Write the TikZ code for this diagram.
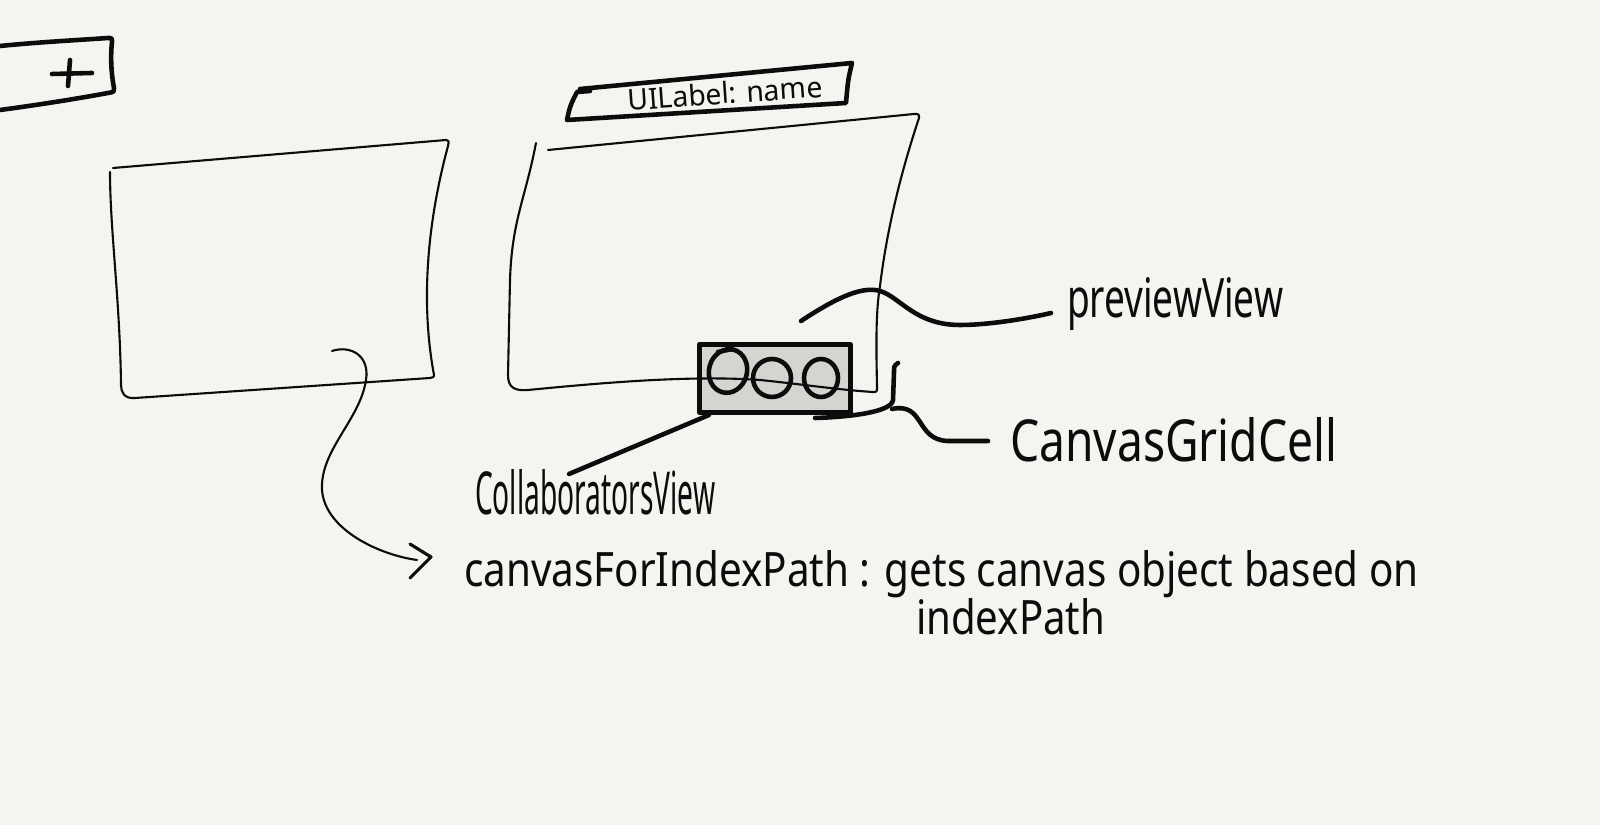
\documentclass[tikz,border=0pt]{standalone}
\usepackage{fontspec}
\setmainfont{Noto Sans}
\usepackage{graphicx}
\definecolor{paper}{RGB}{245,244,240}
\definecolor{cellgray}{RGB}{212,212,209}
\definecolor{ink}{RGB}{12,12,12}
\newcommand\hwtext[2]{\resizebox{#1}{!}{#2}}
\newcommand\hwbox[3]{\resizebox{#1}{#2}{#3}}
\begin{document}
\begin{tikzpicture}[x=0.01cm,y=-0.01cm,line cap=round,line join=round,
  thinstroke/.style={draw=ink,line width=0.6pt},
  thickstroke/.style={draw=ink,line width=1.3pt},
  hand/.style={inner sep=0pt,outer sep=0pt,text=ink}]
\fill[paper] (0,0) rectangle (1600,825);
\useasboundingbox (0,0) rectangle (1600,825);

% top-left partial box with plus
\draw[thickstroke] (0,46) .. controls (40,42) and (80,40) .. (108,38)
  .. controls (112,38) .. (112,42) .. controls (110,60) and (112,78) .. (114,88)
  .. controls (114,92) .. (108,93) .. controls (70,100) and (30,106) .. (0,110);
\draw[thickstroke] (52,74) -- (92,73);
\draw[thickstroke] (70,60) -- (68,86);

% left canvas box
\draw[thinstroke] (113,168) -- (446,140) .. controls (449,141) .. (448,146)
  .. controls (428,220) and (420,300) .. (434,375) .. controls (434,377) .. (430,378)
  -- (135,398) .. controls (124,399) and (121,392) .. (121,385)
  .. controls (120,300) and (110,230) .. (110,172);

% collaborators cell (grey) with three circles
\node[draw=ink,line width=1.3pt,fill=cellgray,minimum width=1.51cm,minimum height=0.68cm,
  inner sep=0pt,anchor=north west] (cell) at (697,342) {};
\draw[thickstroke,rotate around={-15:(728,371)}] (728,371) ellipse [x radius=19,y radius=22];
\draw[thickstroke] (772,378) ellipse [x radius=19,y radius=19];
\draw[thickstroke] (821,378) ellipse [x radius=17,y radius=19];
\draw[thickstroke] (718,352) -- (732,349);

% middle canvas box
\draw[thinstroke] (536,143) .. controls (525,200) and (512,220) .. (510,280)
  -- (508,375) .. controls (508,388) and (515,391) .. (528,390)
  .. controls (600,383) and (690,375) .. (760,380)
  .. controls (800,384) and (840,390) .. (873,392)
  .. controls (877,392) .. (877,386)
  .. controls (876,340) and (876,310) .. (880,286)
  .. controls (888,220) and (905,160) .. (919,118)
  .. controls (919,114) .. (914,114) -- (548,150);

% UILabel box
\draw[thickstroke] (580,89) -- (852,63) .. controls (848,80) .. (846,103) -- (567,120)
  .. controls (570,106) .. (577,92) -- (590,91);
\node[hand,rotate=4] (uilabel) at (725,93) {\hwbox{1.95cm}{0.22cm}{UILabel: name}};

% previewView
\coordinate (pvstart) at (801,321);
\node[hand,anchor=base west] (preview) at (1067,318) {\hwbox{2.16cm}{0.40cm}{previewView}};
\draw[thickstroke] (pvstart) .. controls (830,302) and (860,285) .. (880,291)
  .. controls (900,297) and (915,325) .. (960,325)
  .. controls (990,325) and (1030,318) .. (1051,313);

% CanvasGridCell bracket and connector
\node[hand,anchor=base west] (gridcell) at (1010,462) {\hwbox{3.27cm}{0.44cm}{CanvasGridCell}};
\draw[thickstroke] (898,363) .. controls (894,366) .. (894,372) -- (893,400)
  .. controls (892,412) and (850,417) .. (815,418);
\draw[thickstroke] (892,409) .. controls (925,402) and (915,440) .. (948,441) -- (988,441);

% CollaboratorsView
\node[hand,anchor=base west] (collab) at (475,515) {\hwbox{2.40cm}{0.45cm}{CollaboratorsView}};
\coordinate (cvstart) at (709,415);
\coordinate (cvend) at (569,474);
\draw[thickstroke] (cvstart) -- (cvend);

% canvasForIndexPath description
\node[hand,anchor=base west] (desc) at (464,587) {\hwbox{9.54cm}{0.36cm}{canvasForIndexPath : gets canvas object based on}};
\node[hand,anchor=base west] (desc2) at (916,635) {\hwbox{1.89cm}{0.36cm}{indexPath}};

% curved arrow from left box
\coordinate (arrstart) at (332,351);
\coordinate (arrtip) at (431,557);
\draw[thinstroke] (arrstart) .. controls (350,345) and (370,355) .. (366,380)
  .. controls (360,420) and (320,450) .. (322,490)
  .. controls (325,530) and (380,555) .. (417,560);
\draw[thinstroke,line width=0.9pt] (410,544) -- (arrtip) -- (410,578);
\end{tikzpicture}
\end{document}
